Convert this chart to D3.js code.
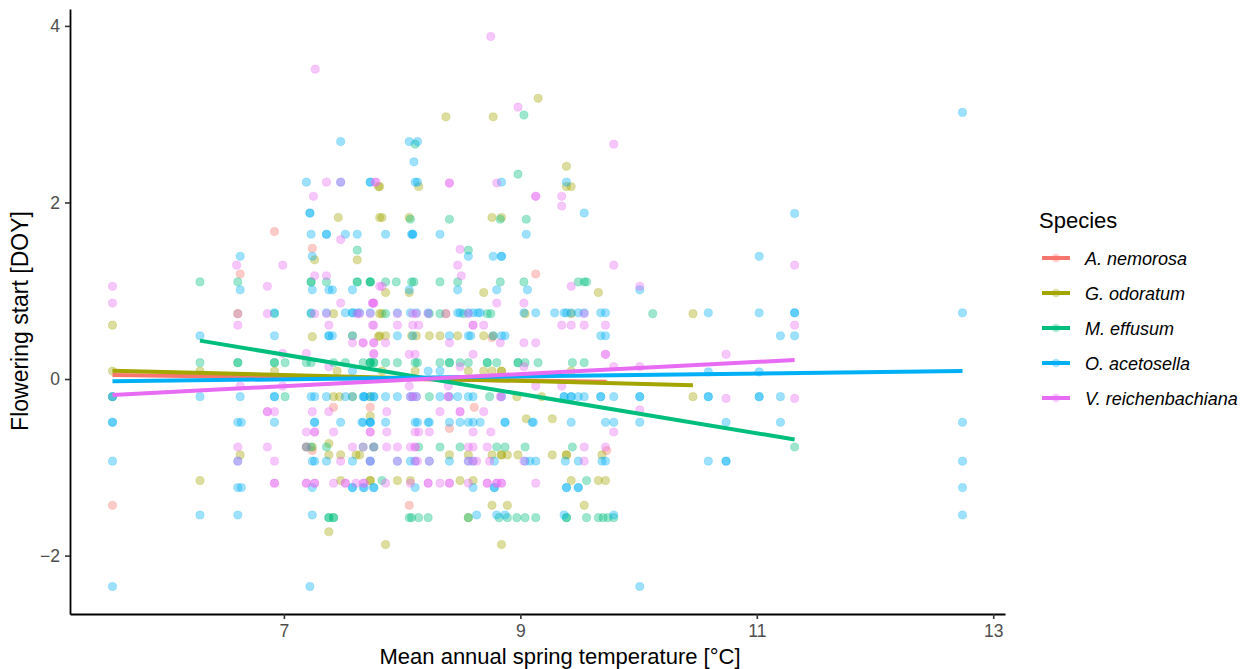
<!DOCTYPE html>
<html>
<head>
<meta charset="utf-8">
<script src="https://cdn.jsdelivr.net/npm/d3@7"></script>
<style>
  html, body { margin: 0; padding: 0; background: #fff; }
  svg { display: block; font-family: "Liberation Sans", Arial, sans-serif; }
</style>
</head>
<body>
<svg id="chart" width="1250" height="669"></svg>
<script>
// Species shown in the legend, in plotting order
const species = ["A. nemorosa", "G. odoratum", "M. effusum", "O. acetosella", "V. reichenbachiana"];
const speciesColors = ["#F8766D", "#A3A500", "#00BF7D", "#00B0F6", "#E76BF3"];

// Observations per species: [mean spring temperature (°C), standardised flowering start (DOY)]
const anemorosa = [
  [6.92,1.67],[7.24,1.48],[6.63,1.19],[9.13,1.19],[5.55,-1.43],[7.42,-0.32],[7.73,-0.32],
  [8.61,-0.32],[8.40,-0.56],[8.76,0.47],[8.06,-1.43],[9.73,-0.81],[7.24,-0.81]
];

const godoratum = [
  [7.80,2.18],[7.46,1.83],[7.81,1.83],[7.26,1.35],[7.62,1.35],[6.61,0.74],[7.42,0.74],[7.81,0.74],
  [5.55,0.61],[7.24,0.48],[7.58,0.49],[7.80,0.48],[7.45,0.09],[6.29,0.09],[5.55,0.09],[6.92,0.09],
  [7.42,-0.2],[7.47,-0.2],[7.58,-0.2],[5.55,-0.2],[7.73,-0.42],[7.19,-0.77],[7.24,-0.77],[7.38,-0.73],
  [6.63,-0.86],[7.38,-0.86],[7.48,-0.86],[7.61,-0.86],[6.29,-1.15],[7.48,-1.15],[7.73,-1.15],[7.38,-1.73],
  [9.15,3.18],[8.37,2.97],[8.77,2.97],[9.39,2.41],[7.81,2.18],[8.14,2.18],[9.39,2.18],[9.43,2.18],
  [7.83,1.83],[8.06,1.83],[8.76,1.83],[8.84,1.83],[7.86,0.98],[8.06,0.98],[8.69,0.98],[9.66,0.98],
  [7.83,0.74],[8.37,0.74],[9.04,0.74],[9.43,0.74],[10.46,0.74],
  [7.81,0.49],[7.86,0.49],[8.08,0.49],[8.12,0.49],[8.23,0.49],[8.32,0.49],[8.47,0.49],[8.69,0.49],[8.77,0.49],
  [7.83,0.09],[8.11,0.09],[8.56,0.09],[8.69,0.09],[8.76,0.09],[8.84,0.09],[8.84,0.09],[9.43,0.09],
  [7.73,-0.2],[8.97,-0.2],[9.18,-0.2],[10.46,-0.2],[9.05,-0.45],[9.27,-0.45],
  [7.64,-0.86],[8.40,-0.86],[8.56,-0.86],[8.76,-0.86],[8.84,-0.86],[8.84,-0.86],[8.89,-0.86],[8.98,-0.86],
  [9.27,-0.86],[9.39,-0.86],[9.39,-0.86],[9.69,-0.86],
  [7.73,-1.15],[7.96,-1.15],[8.07,-1.15],[8.49,-1.15],[8.60,-1.15],[9.43,-1.15],[9.66,-1.15],[9.72,-1.15],
  [8.76,-1.43],[8.89,-1.43],[9.54,-1.43],[8.56,-1.57],[7.86,-1.875],[8.84,-1.875]
];

const meffusum = [
  [7.62,1.46],[6.29,1.10],[6.61,1.10],[7.23,1.10],[7.23,1.10],[7.36,1.10],[7.62,1.10],[7.62,1.10],
  [7.73,1.10],[7.73,1.10],[6.92,0.74],[7.23,0.74],
  [6.29,0.185],[6.61,0.185],[6.61,0.185],[6.92,0.185],[6.92,0.185],[7.01,0.185],[7.19,0.185],[7.23,0.185],
  [7.42,0.185],[7.52,0.185],[7.73,0.185],[7.73,0.185],[7.76,0.185],[7.01,-0.2],
  [7.19,-0.77],[7.36,-0.77],[7.76,-0.77],[7.23,-0.77],[7.38,-1.57],[7.38,-1.57],[7.42,-1.57],[7.42,-1.57],
  [9.03,2.99],[8.11,2.66],[8.98,2.32],[8.07,1.81],[8.40,1.81],[8.83,1.81],[9.05,1.81],[8.56,1.46],
  [7.73,1.10],[7.86,1.10],[7.95,1.10],[8.08,1.10],[8.10,1.10],[8.32,1.10],[8.47,1.10],[8.83,1.10],
  [9.03,1.10],[9.49,1.10],[9.54,1.10],[9.56,1.10],
  [7.86,0.74],[8.23,0.74],[8.32,0.74],[8.52,0.74],[8.72,0.74],[8.75,0.74],[10.12,0.74],
  [7.67,0.185],[7.73,0.185],[7.76,0.185],[7.86,0.185],[7.96,0.185],[8.11,0.185],[8.13,0.185],[8.32,0.185],
  [8.40,0.185],[8.40,0.185],[8.49,0.185],[8.56,0.185],[8.72,0.185],[8.72,0.185],[8.80,0.185],[8.98,0.185],
  [8.98,0.185],[9.04,0.185],[9.15,0.185],[9.44,0.185],[9.54,0.185],
  [8.23,-0.2],[8.74,-0.2],
  [7.76,-0.77],[8.14,-0.77],[8.32,-0.77],[8.49,-0.77],[8.87,-0.77],[8.80,-0.77],[9.04,-0.77],[9.44,-0.77],
  [7.67,-0.77],[11.32,-0.77],[7.83,-1.15],[9.56,-1.15],
  [8.06,-1.57],[8.08,-1.57],[8.14,-1.57],[8.22,-1.57],[8.56,-1.57],[8.82,-1.57],[8.89,-1.57],[8.97,-1.57],
  [9.04,-1.57],[9.13,-1.57],[9.39,-1.57],[9.39,-1.57],[9.56,-1.57],[9.66,-1.57],[9.70,-1.57],[9.74,-1.57],[9.79,-1.57]
];

const oacetosella = [
  [7.48,2.69],[7.19,2.23],[7.48,2.23],[7.73,2.23],[7.22,1.88],[7.22,1.88],[7.23,1.64],[7.36,1.64],
  [7.36,1.64],[7.52,1.64],[7.62,1.64],[7.24,1.39],[6.63,1.39],[6.63,1.01],[7.24,1.01],[7.38,1.01],
  [7.41,1.01],[7.58,1.01],
  [6.92,0.75],[7.23,0.75],[7.36,0.75],[7.52,0.75],[7.58,0.75],[7.58,0.75],[7.62,0.75],[7.73,0.75],
  [6.29,0.49],[6.92,0.49],[7.38,0.49],[7.38,0.49],[7.41,0.49],[7.58,0.49],[7.58,0.09],
  [5.55,-0.2],[5.55,-0.2],[6.29,-0.2],[6.63,-0.2],[6.92,-0.2],[6.92,-0.2],[7.23,-0.2],[7.26,-0.2],
  [7.36,-0.2],[7.52,-0.2],[7.58,-0.2],[7.68,-0.2],[7.68,-0.2],[7.73,-0.2],[7.76,-0.2],
  [5.55,-0.49],[5.55,-0.49],[6.61,-0.49],[6.64,-0.49],[6.92,-0.49],[7.26,-0.49],[7.26,-0.49],[7.48,-0.49],
  [7.66,-0.49],[7.73,-0.49],[7.73,-0.49],
  [5.55,-0.93],[6.61,-0.93],[7.24,-0.93],[7.26,-0.93],[7.36,-0.93],[7.58,-0.93],[7.73,-0.93],
  [6.61,-1.23],[6.64,-1.23],[7.24,-1.23],[7.58,-1.23],[7.58,-1.23],[7.68,-1.23],[7.76,-1.23],
  [6.29,-1.54],[6.61,-1.54],[7.24,-1.54],[5.55,-2.35],[7.22,-2.35],
  [8.06,2.69],[8.13,2.69],[8.10,2.46],[7.73,2.23],[8.11,2.23],[8.13,2.23],[8.84,2.23],[9.39,2.23],
  [9.54,1.88],[7.86,1.64],[8.08,1.64],[8.09,1.64],[8.09,1.64],[8.32,1.64],[9.05,1.64],[8.56,1.39],
  [8.77,1.39],[8.84,1.39],[8.84,1.39],[10.01,1.01],[8.06,1.01],[8.47,1.01],[8.80,1.01],[9.06,1.01],
  [7.64,0.75],[7.96,0.75],[8.07,0.75],[8.12,0.75],[8.22,0.75],[8.47,0.75],[8.49,0.75],[8.56,0.75],
  [8.60,0.75],[8.64,0.75],[8.66,0.75],[9.03,0.75],[9.13,0.75],[9.29,0.75],[9.37,0.75],[9.39,0.75],
  [9.43,0.75],[9.49,0.75],[9.54,0.75],[9.68,0.75],[9.72,0.75],
  [10.59,0.75],[11.02,0.75],[11.32,0.75],[11.32,0.75],[12.74,0.75],[12.74,3.02],[11.32,1.875],[11.02,1.39],
  [7.96,0.49],[8.09,0.49],[8.40,0.49],[8.56,0.49],[8.58,0.49],[8.77,0.49],[8.84,0.49],[8.87,0.49],
  [9.68,0.49],[9.72,0.49],[11.20,0.49],[11.32,0.49],
  [8.22,0.09],[8.32,0.09],[10.59,0.08],[11.02,0.08],
  [7.67,-0.2],[7.76,-0.2],[7.86,-0.2],[7.96,-0.2],[8.07,-0.2],[8.09,-0.2],[8.12,-0.2],[8.32,-0.2],
  [8.40,-0.2],[8.47,-0.2],[8.56,-0.2],[8.60,-0.2],[8.84,-0.2],[9.37,-0.2],[9.37,-0.2],[9.43,-0.2],
  [9.43,-0.2],[9.49,-0.2],[9.54,-0.2],[9.68,-0.2],[9.68,-0.2],[9.79,-0.2],[10.01,-0.2],[10.01,-0.2],
  [10.59,-0.2],[10.59,-0.2],[11.02,-0.2],[11.02,-0.2],[11.20,-0.2],
  [7.67,-0.49],[7.73,-0.49],[7.86,-0.49],[8.11,-0.49],[8.13,-0.49],[8.22,-0.49],[8.23,-0.49],[8.40,-0.49],
  [8.49,-0.49],[8.56,-0.49],[8.60,-0.49],[8.66,-0.49],[8.87,-0.49],[8.87,-0.49],[9.10,-0.49],[9.11,-0.49],
  [9.43,-0.49],[9.72,-0.49],[9.79,-0.49],[10.01,-0.49],[10.74,-0.49],[11.20,-0.49],[12.74,-0.49],
  [7.73,-0.93],[7.96,-0.93],[8.07,-0.93],[8.11,-0.93],[8.23,-0.93],[8.40,-0.93],[8.56,-0.93],[8.60,-0.93],
  [8.78,-0.93],[9.04,-0.93],[9.08,-0.93],[9.13,-0.93],[9.38,-0.93],[9.49,-0.93],[9.69,-0.93],[9.72,-0.93],
  [10.59,-0.93],[10.74,-0.93],[10.74,-0.93],[12.74,-0.93],
  [7.67,-1.23],[7.76,-1.23],[8.11,-1.23],[8.60,-1.23],[8.78,-1.23],[8.78,-1.23],[9.39,-1.23],[9.39,-1.23],
  [9.49,-1.23],[9.49,-1.23],[12.74,-1.23],
  [8.63,-1.54],[8.80,-1.54],[8.87,-1.54],[9.37,-1.54],[9.79,-1.54],[12.74,-1.54],[10.01,-2.35]
];

const vreichenbachiana = [
  [7.265,3.51],[7.36,2.23],[7.48,2.23],[7.77,2.23],[7.25,2.07],[7.48,1.58],[6.60,1.29],[6.99,1.29],
  [7.26,1.17],[7.36,1.17],[5.55,1.05],[6.86,1.05],[7.81,1.05],[5.55,0.86],[7.48,0.86],[7.75,0.86],[7.75,0.86],
  [6.61,0.74],[6.86,0.74],[7.26,0.74],[7.36,0.74],[7.62,0.74],[7.73,0.74],
  [6.61,0.61],[7.38,0.61],[7.75,0.61],[7.58,0.41],[7.67,0.41],[7.76,0.41],[6.99,0.29],[7.19,0.29],
  [7.76,0.29],[7.38,0.14],[6.63,-0.08],[6.99,-0.08],[6.86,-0.37],[6.86,-0.37],[6.92,-0.37],[7.24,-0.37],
  [7.38,-0.37],[7.19,-0.6],[7.26,-0.6],[7.26,-0.6],[7.42,-0.6],[7.73,-0.6],
  [6.61,-0.77],[6.86,-0.77],[7.19,-0.77],[7.58,-0.77],[7.67,-0.77],[7.76,-0.77],
  [6.61,-0.93],[6.92,-0.93],[7.48,-0.93],[7.73,-0.93],
  [6.92,-1.18],[6.92,-1.18],[7.19,-1.18],[7.19,-1.18],[7.26,-1.18],[7.26,-1.18],[7.42,-1.18],[7.52,-1.18],
  [7.52,-1.18],[7.61,-1.18],[7.68,-1.18],
  [8.75,3.88],[8.98,3.08],[9.79,2.66],[7.78,2.23],[8.40,2.22],[8.40,2.22],[8.80,2.22],[9.13,2.07],
  [9.13,2.07],[9.35,2.07],[9.35,1.96],[8.49,1.47],[8.47,1.29],[8.50,1.17],[9.79,1.29],[7.83,1.05],
  [9.43,1.05],[10.01,1.05],[7.76,0.86],[7.76,0.86],[8.80,0.86],[9.03,0.86],
  [7.64,0.74],[7.96,0.74],[8.09,0.74],[8.12,0.74],[8.22,0.74],[8.37,0.74],[8.56,0.74],[9.54,0.74],
  [11.32,1.29],[11.32,0.61],[10.74,0.28],[10.74,-0.22],[11.32,-0.22],[10.01,-0.35],
  [7.76,0.61],[7.96,0.61],[8.09,0.61],[8.14,0.61],[8.60,0.61],[8.60,0.61],[8.69,0.61],[9.35,0.61],
  [9.43,0.61],[9.54,0.61],[9.72,0.61],
  [7.67,0.41],[7.76,0.41],[7.86,0.41],[8.40,0.41],[8.83,0.41],[9.03,0.41],[9.13,0.41],
  [7.76,0.28],[8.06,0.28],[8.11,0.28],[8.60,0.28],[9.72,0.28],[9.72,0.28],
  [8.49,0.14],[9.03,0.14],[9.79,0.14],[10.01,0.14],
  [8.06,-0.08],[8.39,-0.08],[9.13,-0.08],[9.35,-0.08],
  [8.07,-0.2],[8.09,-0.2],[8.12,-0.2],[8.39,-0.2],[8.39,-0.2],[8.83,-0.2],[8.84,-0.2],
  [7.87,-0.37],[8.49,-0.37],[8.49,-0.37],[8.32,-0.37],[8.69,-0.37],
  [7.73,-0.6],[7.87,-0.6],[8.11,-0.6],[8.14,-0.6],[8.23,-0.6],[8.60,-0.6],[8.75,-0.6],[9.79,-0.6],
  [7.87,-0.77],[7.96,-0.77],[8.07,-0.77],[8.11,-0.77],[8.11,-0.77],[8.56,-0.77],[8.60,-0.77],[8.72,-0.77],
  [9.54,-0.77],[9.72,-0.77],
  [7.96,-0.93],[8.11,-0.93],[8.13,-0.93],[8.23,-0.93],[8.56,-0.93],[8.60,-0.93],[8.63,-0.93],[8.74,-0.93],
  [9.03,-0.93],[9.54,-0.93],
  [7.67,-1.18],[7.86,-1.18],[8.07,-1.18],[8.22,-1.18],[8.22,-1.18],[8.32,-1.18],[8.40,-1.18],[8.40,-1.18],
  [8.56,-1.18],[8.72,-1.18],[8.72,-1.18],[8.80,-1.18],[8.80,-1.18],[8.84,-1.18],[8.84,-1.18],[9.13,-1.18]
];

// Fitted linear trends: predicted value at each species' lowest and highest temperature
const fitAtMin = [0.045, 0.094, 0.435, -0.026, -0.18];
const fitAtMax = [-0.03, -0.07, -0.685, 0.09, 0.216];

// Axis ticks
const xTicks = [7, 9, 11, 13];
const yTicks = [-2, 0, 2, 4];

const seriesData = [anemorosa, godoratum, meffusum, oacetosella, vreichenbachiana];

const svg = d3.select("#chart");
const margin = { left: 70, right: 245, top: 9, bottom: 55 };
const W = 1250, H = 669;

const allPts = seriesData.flat();
const xExt = d3.extent(allPts, d => d[0]);
const yExt = d3.extent(allPts, d => d[1]);
const xPad = (xExt[1] - xExt[0]) * 0.05;
const yPad = (yExt[1] - yExt[0]) * 0.05;

const x = d3.scaleLinear()
  .domain([xExt[0] - xPad, xExt[1] + xPad])
  .range([margin.left, W - margin.right]);
const y = d3.scaleLinear()
  .domain([yExt[0] - yPad, yExt[1] + yPad])
  .range([H - margin.bottom, margin.top]);

const color = d3.scaleOrdinal().domain(species).range(speciesColors);

// Points
const pts = svg.append("g");
seriesData.forEach((rows, i) => {
  pts.selectAll(null)
    .data(rows)
    .join("circle")
    .attr("cx", d => x(d[0]))
    .attr("cy", d => y(d[1]))
    .attr("r", 4.1)
    .attr("fill", color(species[i]))
    .attr("fill-opacity", 0.38)
    .attr("stroke", color(species[i]))
    .attr("stroke-opacity", 0.3)
    .attr("stroke-width", 0.8);
});

// Trend lines
const line = d3.line().x(d => x(d[0])).y(d => y(d[1]));
seriesData.forEach((rows, i) => {
  const ext = d3.extent(rows, d => d[0]);
  svg.append("path")
    .datum([[ext[0], fitAtMin[i]], [ext[1], fitAtMax[i]]])
    .attr("d", line)
    .attr("fill", "none")
    .attr("stroke", color(species[i]))
    .attr("stroke-width", 4);
});

// Axes
const xAxis = svg.append("g")
  .attr("transform", `translate(0,${H - margin.bottom})`)
  .call(d3.axisBottom(x).tickValues(xTicks).tickSize(5).tickSizeOuter(0).tickPadding(6)
    .tickFormat(d3.format("d")));
const yAxis = svg.append("g")
  .attr("transform", `translate(${margin.left},0)`)
  .call(d3.axisLeft(y).tickValues(yTicks).tickSize(5).tickSizeOuter(0).tickPadding(5)
    .tickFormat(d => d < 0 ? "\u2212" + Math.abs(d) : d));

[xAxis, yAxis].forEach(g => {
  g.select(".domain").attr("stroke", "#000").attr("stroke-width", 1.8);
  g.selectAll(".tick line").attr("stroke", "#333").attr("stroke-width", 1.6);
  g.selectAll(".tick text").attr("fill", "#4D4D4D").style("font-size", "17.5px")
    .style("font-family", "'Liberation Sans', Arial, sans-serif");
});

// Axis titles
svg.append("text")
  .attr("x", 560)
  .attr("y", 664)
  .attr("text-anchor", "middle")
  .style("font-size", "22px")
  .attr("fill", "#000")
  .text("Mean annual spring temperature [°C]");

svg.append("text")
  .attr("transform", "translate(28,321) rotate(-90)")
  .attr("text-anchor", "middle")
  .style("font-size", "23px")
  .attr("fill", "#000")
  .text("Flowering start [DOY]");

// Legend
const legend = svg.append("g").attr("transform", "translate(1036,0)");
legend.append("text")
  .attr("x", 3).attr("y", 228)
  .style("font-size", "22px")
  .attr("fill", "#000")
  .text("Species");

species.forEach((s, i) => {
  const cy = 258 + i * 35;
  const g = legend.append("g");
  g.append("circle")
    .attr("cx", 20).attr("cy", cy).attr("r", 4.2)
    .attr("fill", color(s)).attr("fill-opacity", 0.35);
  g.append("line")
    .attr("x1", 6).attr("x2", 34).attr("y1", cy).attr("y2", cy)
    .attr("stroke", color(s)).attr("stroke-width", 4);
  g.append("text")
    .attr("x", 49).attr("y", cy + 6.5)
    .style("font-size", "18px")
    .style("font-style", "italic")
    .attr("fill", "#000")
    .text(s);
});
</script>
</body>
</html>
